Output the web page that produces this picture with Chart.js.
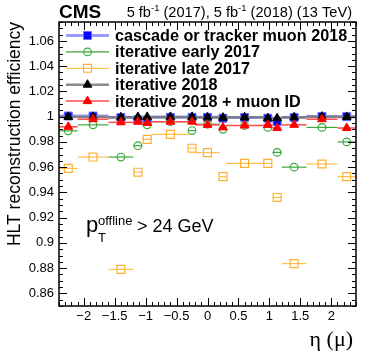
<!DOCTYPE html>
<html><head><meta charset="utf-8">
<script src="https://cdn.jsdelivr.net/npm/chart.js@4/dist/chart.umd.min.js"></script>
<style>html,body{margin:0;padding:0;background:#fff;}canvas{display:block;}</style>
</head><body>
<canvas id="c" width="374" height="360"></canvas>
<script>
// ---- data ----
const etaLow    = [-2.4,-2.1,-1.6,-1.2,-1.05,-0.9,-0.3,-0.2,0.2,0.3,0.9,1.05,1.2,1.6,2.1];
const etaHigh   = [-2.1,-1.6,-1.2,-1.05,-0.9,-0.3,-0.2,0.2,0.3,0.9,1.05,1.2,1.6,2.1,2.4];
const etaCenter = [-2.25,-1.85,-1.4,-1.125,-0.975,-0.6,-0.25,0,0.25,0.6,0.975,1.125,1.4,1.85,2.25];

const seriesNames = ['cascade or tracker muon 2018','iterative early 2017','iterative late 2017','iterative 2018','iterative 2018 + muon ID'];
const effCascade2018    = [1.0005,1.0005,0.9994,0.9975,0.997,0.9995,0.9995,0.9995,0.9988,0.9994,0.9988,0.996,0.9994,1.0002,1.0];
const effEarly2017      = [0.9888,0.9935,0.968,0.977,0.9935,0.996,0.989,0.994,0.990,0.993,0.9915,0.9717,0.960,0.9915,0.980];
const effLate2017       = [0.959,0.968,0.879,0.956,0.982,0.986,0.975,0.9715,0.9525,0.963,0.963,0.936,0.8836,0.9625,0.9525];
const effIter2018       = [0.9998,0.9998,0.9995,0.9998,0.9998,0.9998,0.9998,0.9995,0.9992,0.9995,0.9988,0.9988,0.9995,1.0,0.9998];
const effIter2018MuonID = [0.992,0.998,0.9955,0.996,0.995,0.996,0.996,0.9935,0.9915,0.993,0.9935,0.991,0.9935,0.998,0.991];

const yTickValues = [0.86,0.88,0.9,0.92,0.94,0.96,0.98,1.0,1.02,1.04,1.06];
const xTickValues = [-2,-1.5,-1,-0.5,0,0.5,1,1.5,2];
const xRange = [-2.4, 2.4];
const yRange = [0.85, 1.075];

const allSeries = [effCascade2018, effEarly2017, effLate2017, effIter2018, effIter2018MuonID];

// ---- styles ----
const styles = [
  {pointStyle:'rect',     r:5.6, fill:'#0000ff', stroke:'#6a6aff', bw:1,   bar:'rgba(120,120,255,0.75)', barW:3},
  {pointStyle:'circle',   r:3.8, fill:'rgba(0,0,0,0)', stroke:'#3aa83a', bw:1.2, bar:'#3aa83a', barW:1.2},
  {pointStyle:'rect',     r:5.6, fill:'rgba(0,0,0,0)', stroke:'#ffb030', bw:1.2, bar:'#ffc050', barW:1.2},
  {pointStyle:'triangle', r:5,   fill:'#000000', stroke:'#000000', bw:1,   bar:'rgba(120,120,120,0.85)', barW:2.5},
  {pointStyle:'triangle', r:5,   fill:'#ff0000', stroke:'#ff0000', bw:1,   bar:'#ff4a4a', barW:1.5}
];

const datasets = allSeries.map((vals, k) => ({
  label: seriesNames[k],
  data: etaCenter.map((e, i) => ({x: e, y: vals[i]})),
  showLine: false,
  pointStyle: styles[k].pointStyle,
  pointRadius: styles[k].r,
  pointHoverRadius: styles[k].r,
  backgroundColor: styles[k].fill,
  borderColor: styles[k].stroke,
  pointBorderWidth: styles[k].bw,
  borderWidth: styles[k].bw,
  order: 4 - k,
  barColor: styles[k].bar,
  barWidth: styles[k].barW
}));

const SANS = '"Liberation Sans", Arial, Helvetica, sans-serif';

const errBars = {
  id: 'errBars',
  beforeDatasetDraw(chart, args) {
    const ds = chart.data.datasets[args.index];
    const {ctx, chartArea: a, scales: {x, y}} = chart;
    ctx.save();
    ctx.beginPath(); ctx.rect(a.left, a.top, a.right - a.left, a.bottom - a.top); ctx.clip();
    ctx.strokeStyle = ds.barColor; ctx.lineWidth = ds.barWidth;
    ds.data.forEach((p, i) => {
      const py = y.getPixelForValue(p.y);
      ctx.beginPath();
      ctx.moveTo(x.getPixelForValue(etaLow[i]), py);
      ctx.lineTo(x.getPixelForValue(etaHigh[i]), py);
      ctx.stroke();
    });
    ctx.restore();
  }
};

function marker(ctx, st, cx, cy) {
  ctx.save();
  ctx.fillStyle = st.fill; ctx.strokeStyle = st.stroke; ctx.lineWidth = st.bw;
  ctx.beginPath();
  if (st.pointStyle === 'rect') {
    const s = st.r * Math.SQRT1_2;
    ctx.rect(cx - s, cy - s, 2 * s, 2 * s);
  } else if (st.pointStyle === 'circle') {
    ctx.arc(cx, cy, st.r, 0, Math.PI * 2);
  } else {
    for (let j = 0; j < 3; j++) {
      const ang = j * 2 * Math.PI / 3;
      const px = cx + Math.sin(ang) * st.r, py = cy - Math.cos(ang) * st.r;
      j ? ctx.lineTo(px, py) : ctx.moveTo(px, py);
    }
    ctx.closePath();
  }
  ctx.fill(); ctx.stroke();
  ctx.restore();
}

function rich(ctx, pieces, x, y, align) {
  let total = 0;
  pieces.forEach(p => { ctx.font = p.f; p.w = ctx.measureText(p.t).width; total += p.w; });
  let cx = align === 'right' ? x - total : x;
  ctx.textAlign = 'left'; ctx.textBaseline = 'alphabetic';
  pieces.forEach(p => { ctx.font = p.f; ctx.fillText(p.t, cx, y + (p.dy || 0)); cx += p.w; });
}

const decor = {
  id: 'decor',
  afterDraw(chart) {
    const {ctx, chartArea: a, scales: {x, y}} = chart;
    ctx.save();
    ctx.strokeStyle = '#000'; ctx.lineWidth = 1;
    // ticks
    ctx.beginPath();
    for (let k = 170; k <= 215; k++) {
      const py = Math.round(y.getPixelForValue(k / 200)) + 0.5;
      const len = (k % 4 === 0) ? 8 : 4;
      ctx.moveTo(a.left, py); ctx.lineTo(a.left + len, py);
      ctx.moveTo(a.right, py); ctx.lineTo(a.right - len, py);
    }
    for (let k = -24; k <= 24; k++) {
      const px = Math.round(x.getPixelForValue(k / 10)) + 0.5;
      const len = (k % 5 === 0) ? 8 : 4;
      ctx.moveTo(px, a.bottom); ctx.lineTo(px, a.bottom - len);
      ctx.moveTo(px, a.top); ctx.lineTo(px, a.top + len);
    }
    ctx.stroke();
    // frame
    ctx.lineWidth = 1.5;
    ctx.strokeRect(a.left, a.top, a.right - a.left, a.bottom - a.top);

    ctx.fillStyle = '#000';
    // header
    ctx.font = 'bold 19px ' + SANS; ctx.textAlign = 'left'; ctx.textBaseline = 'alphabetic';
    ctx.fillText('CMS', 59, 18);
    const f14 = '14.6px ' + SANS, f9 = '9.5px ' + SANS;
    rich(ctx, [
      {t:'5 fb', f:f14}, {t:'-1', f:f9, dy:-6}, {t:' (2017), 5 fb', f:f14}, {t:'-1', f:f9, dy:-6},
      {t:' (2018) (13 TeV)', f:f14}
    ], 352, 17, 'right');

    // legend
    datasets.forEach((ds, k) => {
      const ry = 35.5 + 16.4 * k;
      ctx.strokeStyle = ds.barColor; ctx.lineWidth = ds.barWidth;
      ctx.beginPath(); ctx.moveTo(66, ry); ctx.lineTo(109, ry); ctx.stroke();
      marker(ctx, styles[k], 87.5, ry);
      ctx.fillStyle = '#000';
      ctx.font = 'bold 16.2px ' + SANS; ctx.textAlign = 'left'; ctx.textBaseline = 'middle';
      ctx.fillText(ds.label, 115, ry + 1);
    });

    // annotation
    ctx.textBaseline = 'alphabetic';
    rich(ctx, [{t:'p', f:'22px ' + SANS}], 86, 232, 'left');
    ctx.font = '13px ' + SANS; ctx.fillText('offline', 98, 225);
    ctx.fillText('T', 98, 242);
    ctx.font = '18px ' + SANS; ctx.fillText('> 24 GeV', 137, 232);

    // x title
    ctx.font = '22px "Liberation Serif", "Times New Roman", serif';
    ctx.textAlign = 'right';
    ctx.fillText('\u03B7 (\u03BC)', 353, 346);
    ctx.restore();
  }
};

new Chart(document.getElementById('c'), {
  type: 'scatter',
  data: {datasets},
  options: {
    responsive: false,
    animation: false,
    events: [],
    layout: {padding: {top: 22, right: 18, left: 0, bottom: 0}},
    plugins: {legend: {display: false}, tooltip: {enabled: false}},
    scales: {
      x: {
        type: 'linear', min: xRange[0], max: xRange[1],
        grid: {display: false, drawTicks: false}, border: {display: false},
        afterBuildTicks: s => { s.ticks = xTickValues.map(v => ({value: v})); },
        afterFit: s => { s.height = 54; },
        ticks: {
          padding: 3, color: '#000', font: {family: SANS, size: 13}, maxRotation: 0, autoSkip: false,
          callback: v => (v < 0 ? '\u2212' + Math.abs(v) : String(v))
        }
      },
      y: {
        type: 'linear', min: yRange[0], max: yRange[1],
        grid: {display: false, drawTicks: false}, border: {display: false},
        afterBuildTicks: s => { s.ticks = yTickValues.map(v => ({value: v})); },
        afterFit: s => { s.width = 59; },
        ticks: {
          padding: 5, color: '#000', font: {family: SANS, size: 13}, autoSkip: false,
          callback: v => (Math.abs(v - 1) < 1e-9 ? '1' : (Math.round(v * 100) / 100).toString())
        },
        title: {
          display: true, text: 'HLT reconstruction efficiency', align: 'end', color: '#000',
          font: {family: SANS, size: 17.5}, padding: {top: 5, bottom: 0}
        }
      }
    }
  },
  plugins: [errBars, decor]
});
</script>
</body></html>
